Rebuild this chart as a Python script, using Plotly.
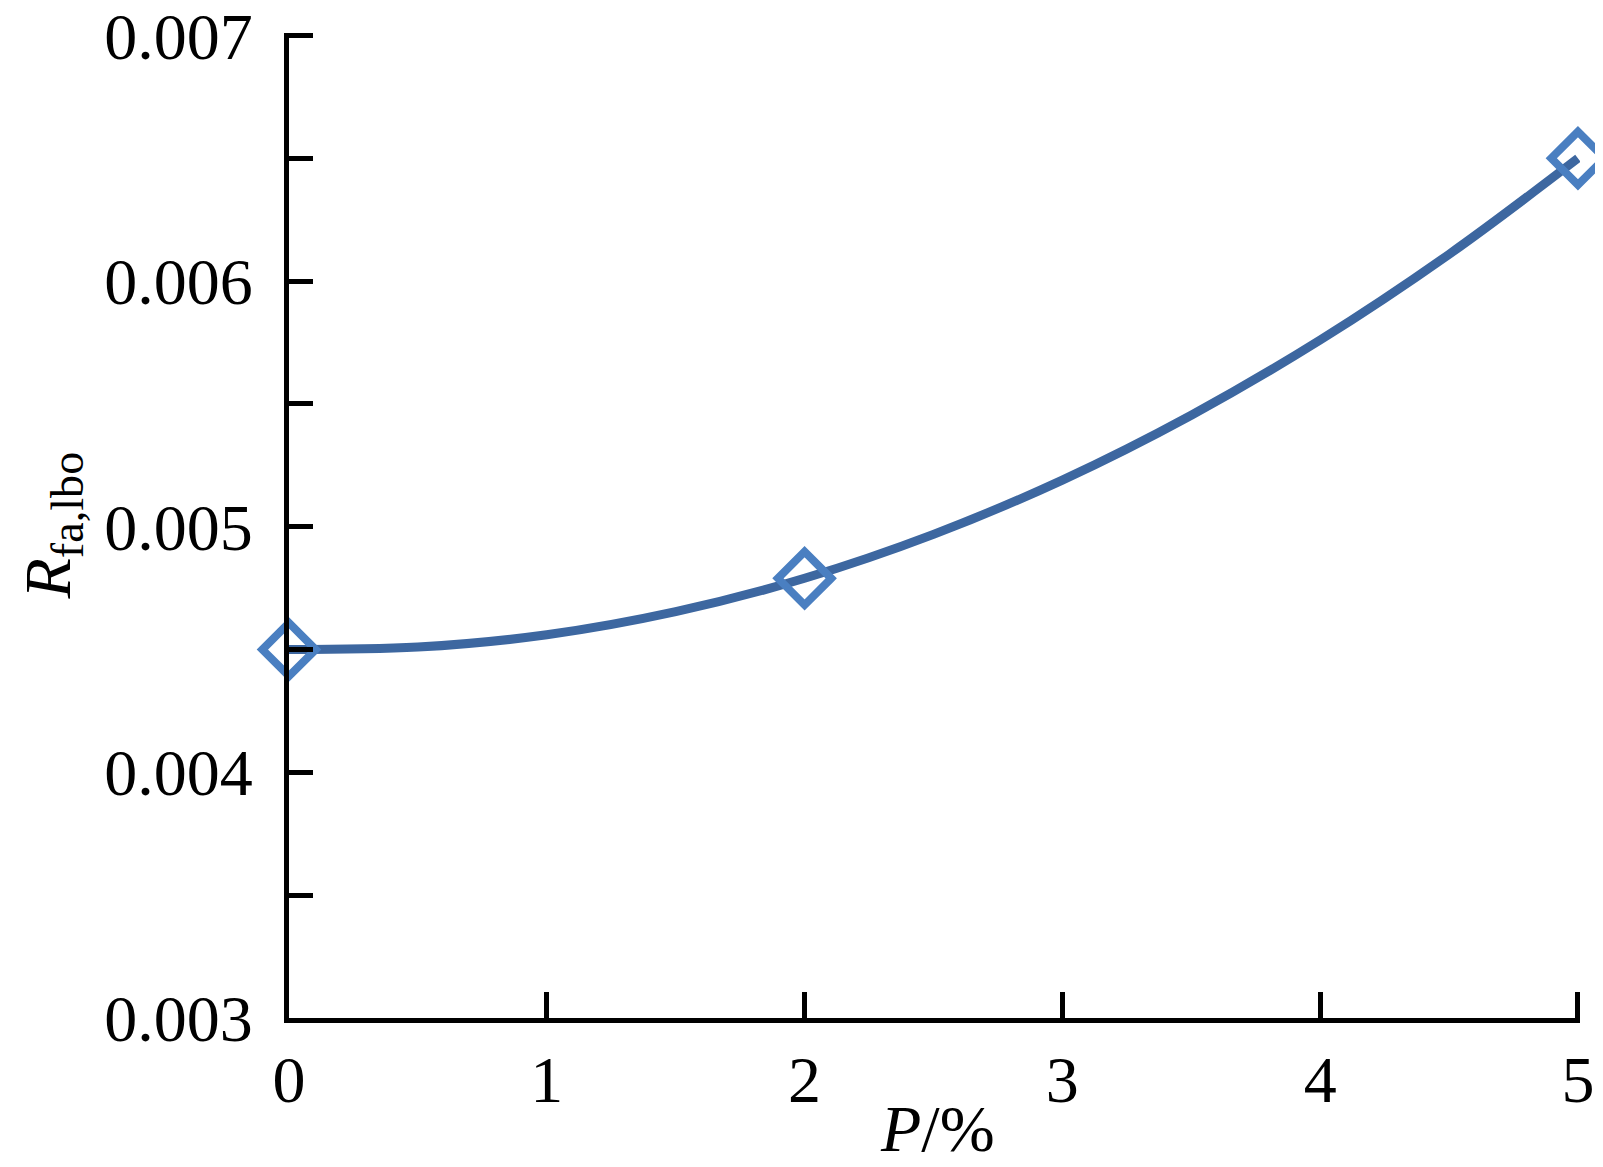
import plotly.graph_objects as go

# measured points
p_pct = [0, 2, 5]
r_fa_lbo = [0.0045, 0.00479, 0.0065]

# trend line
trend_p = [0, 0.5, 1, 1.5, 2, 2.5, 3, 3.5, 4, 4.5, 5]
trend_r = [0.0045, 0.00451, 0.00456, 0.004654, 0.00479, 0.004969,
           0.00519, 0.005454, 0.00576, 0.006109, 0.0065]

y_ticks = [0.003, 0.004, 0.005, 0.006, 0.007]
x_ticks = [0, 1, 2, 3, 4, 5]

x_title = '<i>P</i>/%'
y_title = '<i>R</i><sub>fa,lbo</sub>'

font_family = "Liberation Serif, Times New Roman, serif"

W, H = 1603, 1167
L, R, T, B = 281, 31, 25, 157
plot_w = W - L - R
plot_h = H - T - B

fig = go.Figure()

fig.add_trace(go.Scatter(
    x=trend_p, y=trend_r,
    mode='lines',
    line=dict(color='#3d67a0', width=9, shape='spline'),
    showlegend=False,
    cliponaxis=False,
))

fig.add_trace(go.Scatter(
    x=p_pct, y=r_fa_lbo,
    mode='markers',
    marker=dict(symbol='diamond-open', size=41, color='#4a7fc1',
                line=dict(color='#4a7fc1', width=8)),
    showlegend=False,
    cliponaxis=False,
))

fig.update_layout(
    width=W, height=H,
    margin=dict(l=L, r=R, t=T, b=B, autoexpand=False),
    paper_bgcolor='white', plot_bgcolor='white',
    font=dict(family=font_family, size=66, color='black'),
)

# ranges pushed a hair past the last tick so plotly keeps the inside end ticks
fig.update_xaxes(
    range=[0, 5.008],
    tickvals=x_ticks,
    ticktext=[str(v) for v in x_ticks],
    ticks='inside', ticklen=26, tickwidth=5, tickcolor='black',
    showline=True, linewidth=5, linecolor='black',
    showgrid=False, zeroline=False,
    ticklabelstandoff=0,
    ticklabeloverflow='allow',
)

fig.update_yaxes(
    range=[0.003, 0.00701],
    tickvals=y_ticks,
    ticktext=[f'{v:.3f}' for v in y_ticks],
    ticks='inside', ticklen=24, tickwidth=5, tickcolor='black',
    minor=dict(ticks='inside', dtick=0.0005, tick0=0.003, ticklen=24,
               tickwidth=5, tickcolor='black', showgrid=False),
    showline=True, linewidth=5, linecolor='black',
    showgrid=False, zeroline=False,
    ticklabelstandoff=18,
    ticklabeloverflow='allow',
)

# axis titles as annotations so they can sit right where the original has them
fig.add_annotation(
    text=x_title, xref='paper', yref='paper',
    x=(930 - L) / plot_w, y=-(B - 8) / plot_h,
    xanchor='center', yanchor='bottom', showarrow=False,
    font=dict(size=66),
)
fig.add_annotation(
    text=y_title, xref='paper', yref='paper',
    x=(44 - L) / plot_w, y=0.5,
    xanchor='center', yanchor='middle', textangle=-90, showarrow=False,
    font=dict(size=66),
)

fig.write_html("out.html")
